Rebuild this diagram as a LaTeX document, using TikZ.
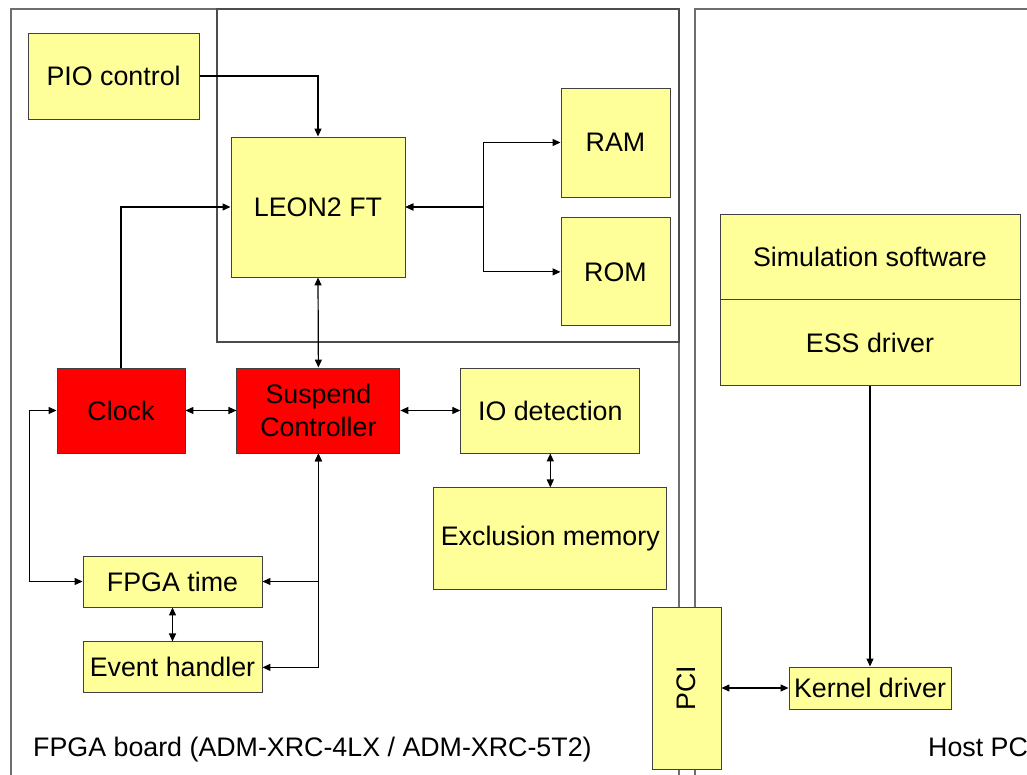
\documentclass[tikz,border=0pt]{standalone}
\usepackage{fontspec}
\setmainfont{Liberation Sans}
\usepackage{xcolor}
\usetikzlibrary{positioning,arrows.meta}
\definecolor{paleyellow}{RGB}{255,255,153}
\definecolor{boxred}{RGB}{255,0,0}
\definecolor{framegray}{RGB}{110,110,110}

\begin{document}
\begin{tikzpicture}[x=1pt, y=1pt, >={Triangle[length=8pt,width=7pt]},
  block/.style={draw=black!75, line width=0.9pt, rectangle, fill=paleyellow, inner sep=0pt,
    align=center, font=\fontsize{26.8}{33}\selectfont},
  redblock/.style={block, fill=boxred},
  link/.style={line width=1.2pt},
  frame/.style={draw=framegray, line width=1.3pt}]
\useasboundingbox (0,0) rectangle (1027,775);

% Frames
\draw[frame] (11,-10) -- (11,766) -- (679,766) -- (679,-10);
\draw[frame, draw=black!70] (217,433) rectangle (679,766);
\draw[frame] (695,-10) -- (695,766) -- (1040,766);
\node[anchor=base west, inner sep=0pt, font=\fontsize{26.8}{30}\selectfont] (boardlabel) at (33,18) {FPGA board (ADM-XRC-4LX / ADM-XRC-5T2)};
\node[anchor=base west, inner sep=0pt, font=\fontsize{26.8}{30}\selectfont] (hostlabel) at (928,18) {Host PC};

% Nodes
\node[block, minimum width=174pt, minimum height=140pt] (leon) at (318,568) {LEON2 FT};
\node[block, minimum width=171pt, minimum height=86pt, above left=17pt and 31pt of leon] (pio) {PIO control};
\node[block, minimum width=109pt, minimum height=109pt] (ram) at (615.5,632.5) {RAM};
\node[block, minimum width=109pt, minimum height=108pt, below=20pt of ram] (rom) {ROM};
\node[redblock, minimum width=128pt, minimum height=85pt] (clock) at (121,364.5) {Clock};
\node[redblock, minimum width=163pt, minimum height=85pt, right=51pt of clock] (suspend) {Suspend\\Controller};
\node[block, minimum width=179pt, minimum height=85pt, right=60pt of suspend] (iodet) {IO detection};
\node[block, minimum width=233pt, minimum height=102pt, below=34pt of iodet] (exclmem) {Exclusion memory};
\node[block, minimum width=179pt, minimum height=51pt] (fpgatime) at (172.5,193.5) {FPGA time};
\node[block, minimum width=179pt, minimum height=51pt, below=34pt of fpgatime] (evhandler) {Event handler};
\node[block, minimum width=300pt, minimum height=85pt] (simsw) at (870,518.5) {Simulation software};
\node[block, minimum width=300pt, minimum height=86pt, below=0pt of simsw] (essdrv) {ESS driver};
\node[block, minimum width=69pt, minimum height=162pt] (pci) at (686.5,87) {\rotatebox{90}{PCI}};
\node[block, minimum width=162pt, minimum height=42pt] (kernel) at (870,87) {Kernel driver};

% Arrows
\draw[link, ->] (pio.east) -| (leon.north);
\draw[link, ->] (clock.north) |- (leon.west);
\draw[link, <->] (leon.east) -- ++(78,0) |- (ram.west);
\draw[link, <->] (leon.east) -- ++(78,0) |- (rom.west);
\draw[link, <->] (leon.south) -- (suspend.north);
\draw[link, <->] (clock.east) -- (suspend.west);
\draw[link, <->] (suspend.east) -- (iodet.west);
\draw[link, <->] (iodet.south) -- (exclmem.north);
\draw[link, <->] (clock.west) -- ++(-27,0) |- (fpgatime.west);
\draw[link, <->] (suspend.south) |- (fpgatime.east);
\draw[link, <->] (suspend.south) |- (evhandler.east);
\draw[link, <->] (fpgatime.south) -- (evhandler.north);
\draw[link, ->] (essdrv.south) -- (kernel.north);
\draw[link, <->] (pci.east) -- (kernel.west);
\end{tikzpicture}
\end{document}
